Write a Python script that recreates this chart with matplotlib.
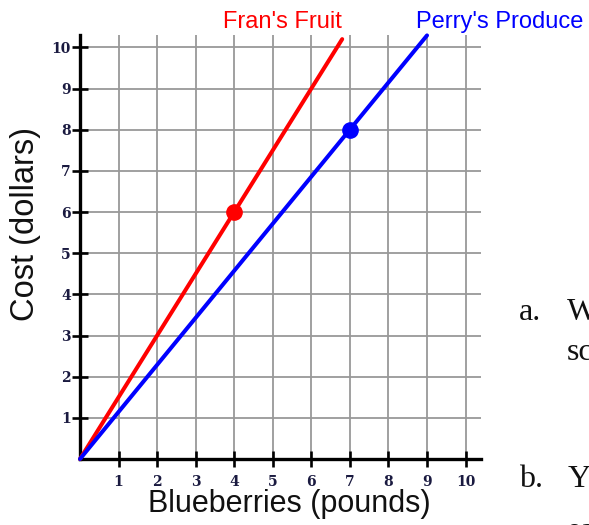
import matplotlib.pyplot as plt

# values
ticks = [1, 2, 3, 4, 5, 6, 7, 8, 9, 10]
fran_line_x = [0, 6.8]
fran_line_y = [0, 10.2]
perry_line_x = [0, 9.0]
perry_line_y = [0, 10.29]
fran_point = (4, 6)
perry_point = (7, 8)

W, H = 589, 525
fig = plt.figure(figsize=(W / 100, H / 100), dpi=100)
ax = fig.add_axes([80 / W, (H - 459) / H, 401 / W, 424 / H])

ax.set_xlim(0, 10.4)
ax.set_ylim(0, 10.3)
ax.set_xticks(ticks)
ax.set_yticks(ticks)
ax.grid(color='#999999', linewidth=1.3)
ax.set_axisbelow(True)

for side in ['top', 'right']:
    ax.spines[side].set_visible(False)
for side in ['left', 'bottom']:
    ax.spines[side].set_linewidth(2.4)
    ax.spines[side].set_zorder(5)

ax.tick_params(direction='inout', length=11, width=1.9, color='black',
               labelsize=10, labelcolor='#1a1a40')
ax.tick_params(axis='x', pad=6)
ax.tick_params(axis='y', pad=1)
for lab in ax.get_xticklabels() + ax.get_yticklabels():
    lab.set_fontfamily('DejaVu Serif')
    lab.set_fontweight('bold')

ax.plot(fran_line_x, fran_line_y, color='#ff0000', linewidth=2.9,
        solid_capstyle='round', zorder=6, clip_on=False)
ax.plot(perry_line_x, perry_line_y, color='#0000ff', linewidth=2.9,
        solid_capstyle='round', zorder=6, clip_on=False)
ax.plot(*fran_point, 'o', color='#ff0000', markersize=11, zorder=7)
ax.plot(*perry_point, 'o', color='#0000ff', markersize=11, zorder=7)

# axis titles
fig.text(289 / W, 1 - 512 / H, 'Blueberries (pounds)', fontsize=22,
         family='Liberation Sans', color='#111111', ha='center', va='baseline')
fig.text(26 / W, 1 - 224 / H, 'Cost (dollars)', fontsize=23.5, rotation=90,
         family='Liberation Sans', color='#111111', ha='center', va='center')

# series names
fig.text(282 / W, 1 - 28 / H, "Fran's Fruit", color='#ff0000', fontsize=17,
         family='Liberation Sans', ha='center', va='baseline')
fig.text(500 / W, 1 - 28 / H, "Perry's Produce", color='#0000ff', fontsize=17,
         family='Liberation Sans', ha='center', va='baseline')

# cut-off worksheet text on the right
for txt, x, y in [('a.', 519, 320), ('W', 567, 320), ('sc', 567, 360),
                  ('b.', 519, 487), ('Y', 568, 487), ('ea', 567, 539)]:
    fig.text(x / W, 1 - y / H, txt, fontsize=23, family='Liberation Serif',
             color='#111111', ha='left', va='baseline')

fig.savefig('out.png', dpi=100)
